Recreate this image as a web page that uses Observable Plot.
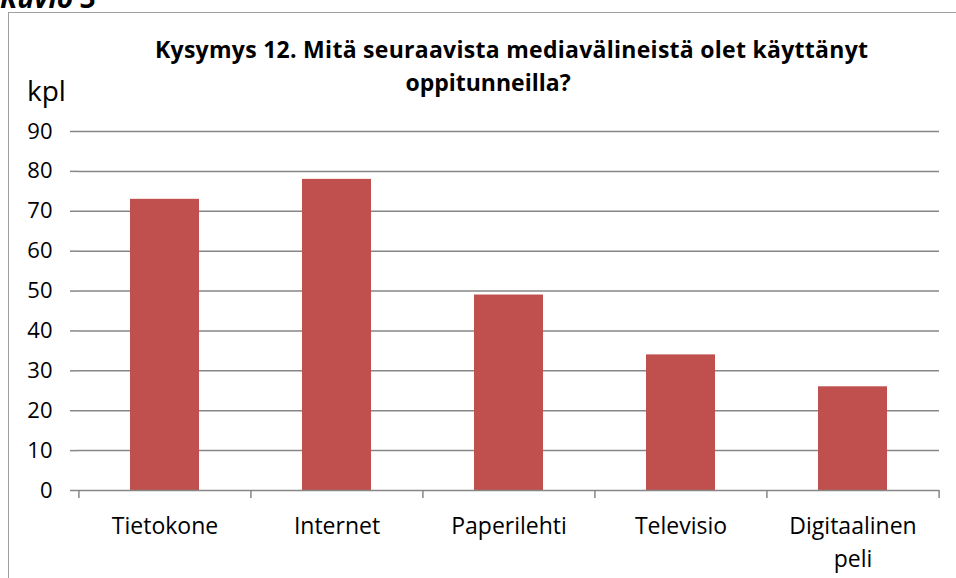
<!DOCTYPE html>
<html><head><meta charset="utf-8">
<script src="https://cdn.jsdelivr.net/npm/d3@7"></script>
<script src="https://cdn.jsdelivr.net/npm/@observablehq/plot@0.6"></script>
<style>
html,body{margin:0;padding:0;background:#fff;}
#page{position:relative;width:956px;height:578px;overflow:hidden;font-family:"Open Sans",sans-serif;}
#frame{position:absolute;left:8px;top:12px;width:1000px;height:600px;border:1.5px solid #a0a0a0;box-sizing:border-box;}
#chart{position:absolute;left:0;top:0;}
#texts{position:absolute;left:0;top:0;}
</style></head>
<body><div id="page">
<div id="frame"></div>
<div id="chart"></div>
<svg id="texts" width="956" height="578" font-family="'Open Sans', sans-serif" fill="#000">
  <text x="0" y="8" font-size="28" font-weight="bold" font-style="italic">Kuvio 3</text>
  <text x="155" y="58" font-size="23" font-weight="bold" textLength="713" lengthAdjust="spacing">Kysymys 12. Mitä seuraavista mediavälineistä olet käyttänyt</text>
  <text x="488" y="91" font-size="23" font-weight="bold" text-anchor="middle">oppitunneilla?</text>
  <text x="27" y="101" font-size="28">kpl</text>
</svg>
</div>
<script>
const categories = ["Tietokone","Internet","Paperilehti","Televisio","Digitaalinen peli"];
const tickLabels = ["Tietokone","Internet","Paperilehti","Televisio","Digitaalinen\npeli"];
const values = [73,78,49,34,26];
const yTicks = [0,10,20,30,40,50,60,70,80,90];
const data = categories.map((c,i)=>({cat:c,value:values[i]}));
const barColor = "#C0504D";
const gridColor = "#868686";
const W = 956, ML = 78, MR = 17;
const step = (W - ML - MR) / categories.length;
const chart = Plot.plot({
  width: W, height: 578,
  marginLeft: ML, marginRight: MR, marginTop: 131, marginBottom: 88,
  style: {fontFamily: "'Open Sans', sans-serif", fontSize: "22px", color: "#000", background: "transparent", overflow: "visible"},
  x: {domain: categories, paddingInner: 0.6, paddingOuter: 0.3, label: null},
  y: {domain: [0,90], ticks: yTicks, label: null},
  marks: [
    Plot.gridY(yTicks.filter(d=>d>0), {stroke: gridColor, strokeOpacity: 1, strokeWidth: 1.5}),
    Plot.barY(data, {x: "cat", y: "value", fill: barColor}),
    Plot.axisY({ticks: yTicks, tickSize: 8, tickPadding: 18, stroke: gridColor, strokeWidth: 1.5, strokeOpacity: 1, fill: "#000", fontSize: 22, label: null}),
    Plot.ruleY([0], {stroke: gridColor, strokeWidth: 1.5}),
    Plot.ruleX([0], {frameAnchor: "left", y1: 0, y2: 90, stroke: gridColor, strokeWidth: 1.5}),
    // category boundary ticks below the axis
    Plot.ruleX(categories, {x: d => d, dx: -step / 2, y1: 0, y2: -2, stroke: gridColor, strokeWidth: 1.5}),
    Plot.ruleX(categories.slice(-1), {x: d => d, dx: step / 2, y1: 0, y2: -2, stroke: gridColor, strokeWidth: 1.5}),
    Plot.axisX({tickSize: 0, tickPadding: 21, tickFormat: (d)=>tickLabels[categories.indexOf(d)], fill: "#000", fontSize: 23, lineHeight: 1.4, label: null})
  ]
});
document.getElementById("chart").appendChild(chart);
</script>
</body></html>
